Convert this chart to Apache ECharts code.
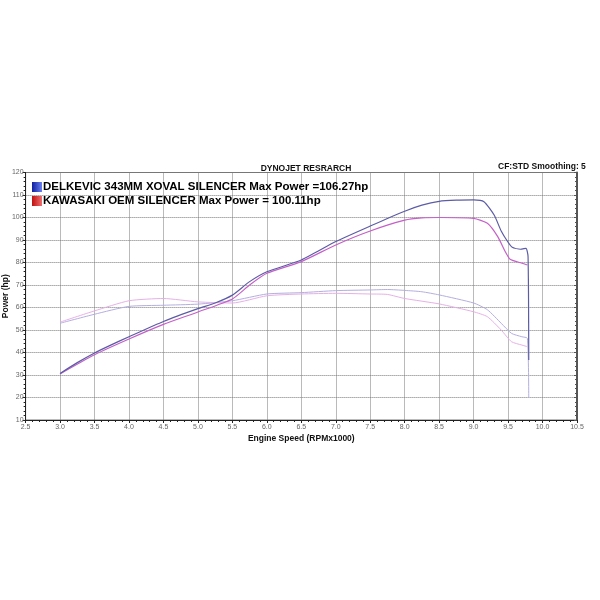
<!DOCTYPE html>
<html>
<head>
<meta charset="utf-8">
<script src="https://cdn.jsdelivr.net/npm/echarts@6/dist/echarts.min.js"></script>
<style>html,body{margin:0;padding:0;background:#fff}#c{width:600px;height:600px}</style>
</head>
<body>
<div id="c"></div>
<script>
// ---- data ----
const chartTitle = "DYNOJET RESRARCH";
const cornerNote = "CF:STD Smoothing: 5";
const nameDelk = "DELKEVIC 343MM XOVAL SILENCER Max Power =106.27hp";
const nameKawa = "KAWASAKI OEM SILENCER Max Power = 100.11hp";
const xTitle = "Engine Speed (RPMx1000)";
const yTitle = "Power (hp)";

const delkPowerRpm = [3.0, 3.25, 3.5, 3.75, 4.0, 4.5, 5.0, 5.25, 5.5, 5.75, 6.0, 6.5, 7.0, 7.5, 8.0, 8.25, 8.5, 8.75, 9.0, 9.15, 9.3, 9.4, 9.5, 9.56, 9.68, 9.76, 9.79, 9.8];
const delkPowerHp  = [30.7, 35.5, 39.8, 43.5, 47.0, 53.8, 59.5, 62.0, 65.5, 71.5, 75.9, 81.1, 89.3, 96.2, 102.8, 105.5, 107.2, 107.7, 107.8, 107.0, 101.0, 94.0, 89.0, 86.8, 85.9, 86.3, 82.6, 36.7];

const kawaPowerRpm = [3.0, 3.5, 4.0, 4.5, 5.0, 5.5, 5.75, 6.0, 6.5, 7.0, 7.5, 8.0, 8.25, 8.5, 9.0, 9.2, 9.35, 9.46, 9.53, 9.68, 9.78];
const kawaPowerHp  = [30.5, 39.0, 46.0, 52.5, 58.0, 63.8, 70.0, 75.2, 80.4, 87.8, 94.0, 98.8, 99.8, 100.0, 99.6, 97.4, 91.5, 84.8, 81.4, 79.9, 78.9];

const delkLowerRpm = [3.0, 3.5, 4.0, 4.5, 5.0, 5.5, 6.0, 6.5, 7.0, 7.5, 7.75, 8.0, 8.25, 8.5, 9.0, 9.2, 9.4, 9.55, 9.7, 9.78, 9.8];
const delkLowerVal = [53.0, 57.0, 60.5, 61.0, 61.5, 63.0, 66.0, 66.6, 67.5, 67.8, 68.0, 67.6, 67.0, 65.6, 62.0, 59.0, 53.0, 48.5, 47.0, 46.3, 19.8];

const kawaLowerRpm = [3.0, 3.5, 4.0, 4.5, 5.0, 5.5, 6.0, 6.5, 7.0, 7.5, 7.75, 8.0, 8.5, 9.0, 9.2, 9.4, 9.55, 9.7, 9.78];
const kawaLowerVal = [53.5, 58.5, 63.0, 64.0, 62.5, 62.0, 65.2, 66.0, 66.3, 66.0, 65.8, 64.0, 61.6, 58.1, 55.9, 50.0, 44.8, 43.3, 42.6];

const xTicks = {min: 2.5, max: 10.5, step: 0.5};
const yTicks = {min: 10, max: 120, step: 10};

// ---- chart ----
function pairs(xs, ys) { return xs.map((x, i) => [x, ys[i]]); }
const font = "Liberation Sans, Arial, sans-serif";
const chart = echarts.init(document.getElementById('c'), null, {renderer: 'canvas'});
const grad = (a, b) => new echarts.graphic.LinearGradient(0, 0, 1, 0, [{offset: 0, color: a}, {offset: 1, color: b}]);

chart.setOption({
  animation: false,
  backgroundColor: '#fff',
  title: [
    {text: chartTitle, left: 301, top: 159, textAlign: 'center',
     textStyle: {fontFamily: font, fontSize: 8.5, fontWeight: 'bold', color: '#111'}},
    {text: cornerNote, left: 493, top: 157,
     textStyle: {fontFamily: font, fontSize: 8.5, fontWeight: 'bold', color: '#111'}}
  ],
  legend: {
    orient: 'vertical', left: 27, top: 176, itemGap: 2,
    itemWidth: 10, itemHeight: 10, icon: 'rect',
    textStyle: {fontFamily: font, fontSize: 11.5, fontWeight: 'bold', color: '#000', padding: [0, 0, 0, -4]},
    data: [
      {name: nameDelk, itemStyle: {color: grad('#1020a0', '#6a80f0')}},
      {name: nameKawa, itemStyle: {color: grad('#c01010', '#f07070')}}
    ]
  },
  grid: {left: 25.6, right: 23, top: 172.5, bottom: 180, show: true, borderColor: '#777', borderWidth: 1,
         containLabel: false, outerBoundsMode: 'none'},
  xAxis: {
    type: 'value', min: xTicks.min, max: xTicks.max, interval: xTicks.step,
    name: xTitle, nameLocation: 'middle', nameGap: 14, nameMoveOverlap: false,
    nameTextStyle: {fontFamily: font, fontSize: 8.5, fontWeight: 'bold', color: '#111'},
    axisLine: {show: true, onZero: false, lineStyle: {color: '#222', width: 1}},
    axisTick: {show: true, length: 3, lineStyle: {color: '#222'}},
    minorTick: {show: true, splitNumber: 5, length: 2, lineStyle: {color: '#222'}},
    axisLabel: {fontFamily: font, fontSize: 7, color: '#666', margin: 4, formatter: v => v.toFixed(1)},
    splitLine: {show: true, lineStyle: {color: '#777', type: 'dotted', width: 1}}
  },
  yAxis: [{
    type: 'value', min: yTicks.min, max: yTicks.max, interval: yTicks.step,
    name: yTitle, nameLocation: 'middle', nameGap: 15, nameMoveOverlap: false,
    nameTextStyle: {fontFamily: font, fontSize: 8.5, fontWeight: 'bold', color: '#111'},
    axisLine: {show: true, onZero: false, lineStyle: {color: '#222', width: 1}},
    axisTick: {show: true, length: 3, lineStyle: {color: '#222'}},
    minorTick: {show: true, splitNumber: 5, length: 2, lineStyle: {color: '#222'}},
    axisLabel: {fontFamily: font, fontSize: 7, color: '#666', margin: 2},
    splitLine: {show: true, lineStyle: {color: '#777', type: 'dotted', width: 1}}
  }, {
    type: 'value', position: 'right', min: yTicks.min, max: yTicks.max, interval: yTicks.step,
    axisLine: {show: true, lineStyle: {color: '#555', width: 2}},
    axisTick: {show: true, inside: true, length: 3, lineStyle: {color: '#555'}},
    minorTick: {show: true, splitNumber: 5, length: 2, lineStyle: {color: '#555'}},
    axisLabel: {show: false}, splitLine: {show: false}
  }],
  series: [
    {name: 'delkLower', type: 'line', data: pairs(delkLowerRpm, delkLowerVal), showSymbol: false, smooth: 0.2,
     lineStyle: {color: '#b4aee0', width: 1}, itemStyle: {color: '#b4aee0'}, z: 2},
    {name: 'kawaLower', type: 'line', data: pairs(kawaLowerRpm, kawaLowerVal), showSymbol: false, smooth: 0.2,
     lineStyle: {color: '#e6b0e6', width: 1}, itemStyle: {color: '#e6b0e6'}, z: 2},
    {name: nameKawa, type: 'line', data: pairs(kawaPowerRpm, kawaPowerHp), showSymbol: false, smooth: 0.2,
     lineStyle: {color: '#c460c8', width: 1.2}, itemStyle: {color: '#c460c8'}, z: 3},
    {name: nameDelk, type: 'line', data: pairs(delkPowerRpm, delkPowerHp), showSymbol: false, smooth: 0.2,
     lineStyle: {color: '#5c5ca6', width: 1.2}, itemStyle: {color: '#5c5ca6'}, z: 4}
  ]
});
</script>
</body>
</html>
